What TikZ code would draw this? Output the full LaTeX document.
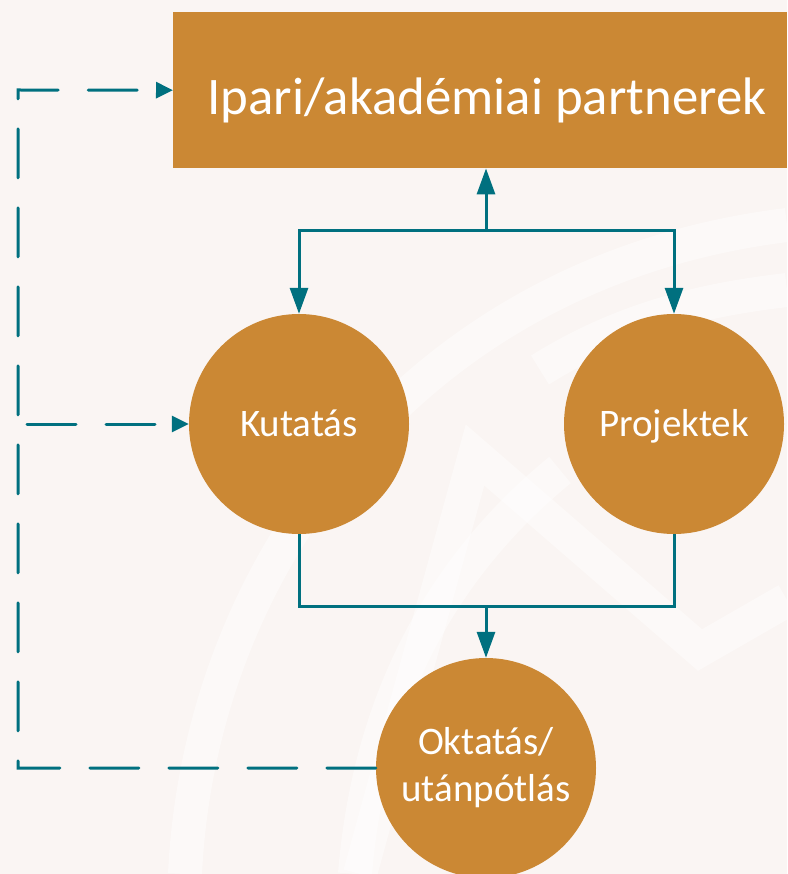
\documentclass[tikz,border=0pt]{standalone}
\usepackage{fontspec}
\setmainfont{Carlito}
\usetikzlibrary{arrows.meta}
\definecolor{bgpaper}{HTML}{FAF5F3}
\definecolor{ochre}{HTML}{CB8834}
\definecolor{linkteal}{HTML}{00707F}
\tikzset{
  boxstyle/.style={fill=ochre, draw=none, inner sep=0pt},
  titletext/.style={text=white, font=\fontsize{52.8}{60}\selectfont, inner sep=0pt},
  bubble/.style={circle, fill=ochre, draw=none, minimum size=220pt, inner sep=0pt,
     text=white, font=\fontsize{39}{47}\selectfont},
  onetext/.style={text height=25pt, text depth=0pt},
  conn/.style={draw=linkteal, line width=3pt},
  bigtip/.style={-{Triangle[length=26pt,width=18pt]}},
  smalltip/.style={-{Triangle[length=17pt,width=16pt]}},
  dashline/.style={draw=linkteal, line width=3pt, line cap=round, dash pattern=on 49pt off 30pt},
  mark band/.style={draw=white, line width=34pt, opacity=0.45},
}
\begin{document}
\begin{tikzpicture}[x=1pt,y=-1pt]
\fill[bgpaper] (0,0) rectangle (787,874);
\useasboundingbox (0,0) rectangle (787,874);
% faint watermark
\begin{scope}
\clip (0,0) rectangle (787,874);
\draw[mark band] (185,874) .. controls (200,560) and (420,270) .. (787,225);
\draw[mark band] (355,874) .. controls (370,690) and (450,560) .. (560,470);
\draw[mark band, line join=miter] (360,874) -- (475,455) -- (700,650) -- (787,600);
\draw[mark band] (540,370) .. controls (620,320) and (700,300) .. (787,290);
\end{scope}
% nodes
\node[boxstyle, minimum width=614pt, minimum height=156pt, anchor=north west] (partners) at (173,12) {};
\node[titletext, anchor=base] (ptext) at (487,115) {Ipari/akadémiai partnerek};
\node[bubble, onetext] (kut) at (299,424) {Kutatás};
\node[bubble, onetext] (proj) at (674,424) {Projektek};
\node[bubble, align=center] (okt) at (486,768) {Oktatás/\\utánpótlás};
% solid connectors
\coordinate (jt) at (486,231);
\coordinate (jb) at (486,606);
\draw[conn, bigtip] (jt) -- (jt |- partners.south);
\draw[conn, bigtip] (jt) -| (kut.north);
\draw[conn, bigtip] (jt) -| (proj.north);
\draw[conn] (kut.south) |- (jb) -| (proj.south);
\draw[conn, bigtip] (jb) -- (okt.north);
% dashed feedback
\coordinate (ul) at (18,90);
\coordinate (ms) at (27,424);
\draw[dashline, smalltip] (okt.west) -| (ul) -- (partners.west);
\draw[dashline, smalltip] (ms) -- (kut.west);
\end{tikzpicture}
\end{document}
